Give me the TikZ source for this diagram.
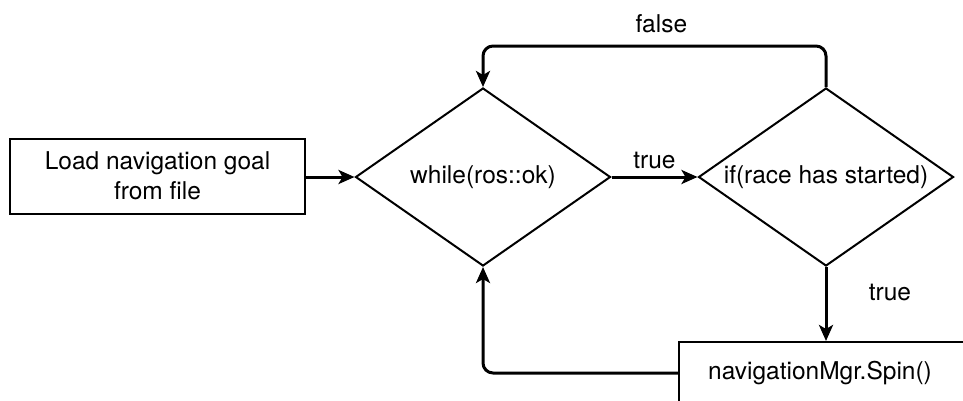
\documentclass[tikz,border=0pt]{standalone}
\usepackage{fontspec}
\setmainfont{TeX Gyre Heros}
\usetikzlibrary{arrows.meta,positioning,calc,shapes.geometric}

\begin{document}
\begin{tikzpicture}[x=1pt,y=-1pt,
    font=\fontsize{24.5}{30}\selectfont,
    procbox/.style={draw,line width=2pt,align=center,inner sep=0pt},
    decision/.style={draw,diamond,line width=2pt,inner sep=0pt,
      minimum width=255pt,minimum height=178pt},
    flow/.style={line width=3pt,-{Stealth[length=16pt,width=14pt,inset=4pt]}}]
  \useasboundingbox (0,0) rectangle (963,400); % 画像の範囲
  \node[procbox,minimum width=295pt,minimum height=75pt] (load) at (157.5,176)
    {Load navigation goal\\from file}; % 初期処理
  \node[decision,label=center:{while(ros::ok)}] (while) at (483,177) {}; % ループ条件
  \node[decision,label=center:{if(race has started)}] (iff) at (826,177) {}; % 開始判定
  \node[procbox,minimum width=286pt,minimum height=64pt,anchor=north west]
    (spin) at (678,341) {}; % 下の処理（右端と下端は切れている）
  \node (spintext) at (820,373) {navigationMgr.Spin()}; % 処理の文字
  \draw[flow] (load.east |- while.west) -- (while.west); % 開始からループへ
  \draw[flow] (while.east) -- node[above=3pt] {true} (iff.west); % ループ内へ
  \draw[flow,rounded corners=10pt] (iff.north) -- ++(0,-41)
    -| node[pos=0.24,above=8pt] {false} (while.north); % 未開始なら戻る
  \draw[flow] (iff.south) -- node[pos=0.35,right=38pt] {true} (spin.north -| iff.south); % 開始済み
  \draw[flow,rounded corners=10pt] (spin.west |- spintext) -| (while.south); % ループの先頭へ
\end{tikzpicture}
\end{document}
